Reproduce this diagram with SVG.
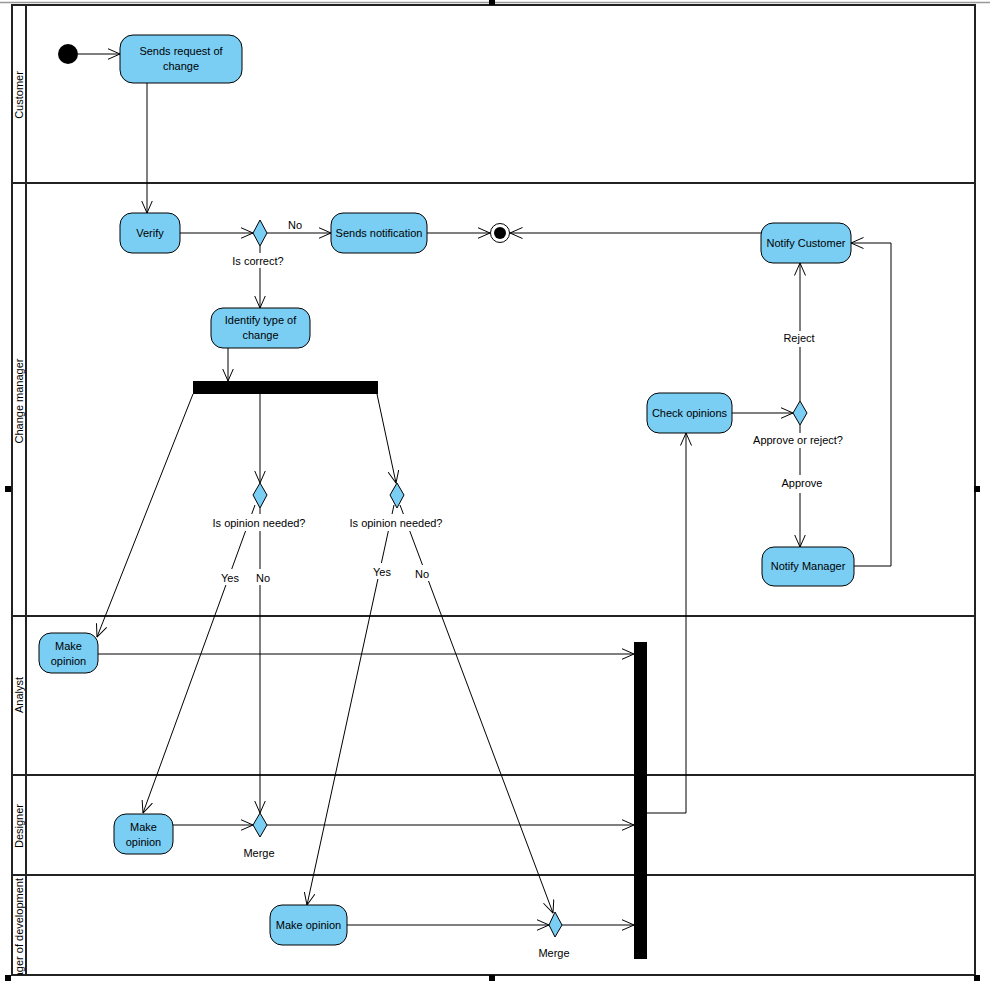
<svg xmlns="http://www.w3.org/2000/svg" width="990" height="993" viewBox="0 0 990 993">
<style>
text{font-family:"Liberation Sans",Arial,sans-serif;font-size:11px;fill:#000}
.n{text-anchor:middle}
.act{fill:#7ACEF4;stroke:#000;stroke-width:1}
.dec{fill:#7ACEF4;stroke:#000;stroke-width:1}
.lane{stroke:#222;stroke-width:2;fill:none}
.c{fill:none;stroke:#000;stroke-width:1;marker-end:url(#arr)}
.cl{fill:none;stroke:#000;stroke-width:1}
.bg{fill:#fff}
.h{fill:#000}
</style>
<defs>
<marker id="arr" markerUnits="userSpaceOnUse" viewBox="0 0 13 12" refX="12.5" refY="6" markerWidth="13" markerHeight="12" orient="auto">
<path d="M0,0.5 L12.5,6 L0,11.5" fill="none" stroke="#000" stroke-width="1"/>
</marker>
<clipPath id="hdr5"><rect x="12" y="876" width="14" height="99"/></clipPath>
</defs>
<rect width="990" height="993" fill="#fff"/>
<g id="frame">
<line x1="0" y1="2.5" x2="990" y2="2.5" stroke="#999" stroke-width="1.5"/>
<rect class="lane" x="12" y="5" width="963" height="970"/>
<line class="lane" x1="26" y1="5" x2="26" y2="975"/>
<line class="lane" x1="12" y1="183" x2="975" y2="183"/>
<line class="lane" x1="12" y1="616" x2="975" y2="616"/>
<line class="lane" x1="12" y1="775" x2="975" y2="775"/>
<line class="lane" x1="12" y1="875" x2="975" y2="875"/>
<text class="n" transform="translate(23,95) rotate(-90)">Customer</text>
<text class="n" transform="translate(23,401) rotate(-90)">Change manager</text>
<text class="n" transform="translate(23,695) rotate(-90)">Analyst</text>
<text class="n" transform="translate(23,826) rotate(-90)">Designer</text>
<g clip-path="url(#hdr5)"><text text-anchor="end" transform="translate(23,878) rotate(-90)">Manager of development</text></g>
<rect class="h" x="489" y="0" width="6" height="5"/>
<rect class="h" x="974" y="486" width="6" height="6"/>
<rect class="h" x="5" y="486" width="6" height="6"/>
<rect class="h" x="489" y="975" width="6" height="6"/>
<rect class="h" x="5" y="975" width="6" height="6"/>
<rect class="h" x="974" y="975" width="6" height="6"/>
</g>
<g id="connectors">
<line class="c" x1="78" y1="54" x2="120" y2="54"/>
<line class="c" x1="147" y1="83" x2="147" y2="213"/>
<line class="c" x1="180" y1="233" x2="253" y2="233"/>
<line class="c" x1="267" y1="233" x2="331" y2="233"/>
<line class="c" x1="427" y1="233" x2="490" y2="233"/>
<line class="c" x1="761" y1="233" x2="510" y2="233"/>
<line class="c" x1="260" y1="246" x2="260" y2="308"/>
<line class="c" x1="228" y1="348" x2="228" y2="381"/>
<line class="c" x1="193" y1="394" x2="97" y2="637"/>
<line class="c" x1="260" y1="394" x2="260" y2="483"/>
<line class="c" x1="377" y1="394" x2="396" y2="483"/>
<line class="c" x1="255" y1="505" x2="143" y2="813"/>
<line class="c" x1="260" y1="508" x2="260" y2="813"/>
<line class="c" x1="394" y1="505" x2="307" y2="905"/>
<line class="c" x1="400" y1="505" x2="553" y2="913"/>
<line class="c" x1="173" y1="825" x2="253" y2="825"/>
<line class="c" x1="267" y1="825" x2="634" y2="825"/>
<line class="c" x1="98" y1="654" x2="634" y2="654"/>
<line class="c" x1="347" y1="925" x2="549" y2="925"/>
<line class="c" x1="562" y1="925" x2="634" y2="925"/>
<polyline class="c" points="647,813 686,813 686,433"/>
<line class="c" x1="732" y1="413" x2="793" y2="413"/>
<line class="c" x1="800" y1="401" x2="800" y2="263"/>
<line class="c" x1="800" y1="425" x2="800" y2="547"/>
<polyline class="c" points="854,566 891,566 891,243 851,243"/>
</g>
<g id="labels">
<text class="n" x="295" y="229">No</text>
<rect class="bg" x="231" y="253" width="54" height="15"/><text class="n" x="258" y="265">Is correct?</text>
<rect class="bg" x="212" y="514" width="94" height="17"/><text class="n" x="259" y="527">Is opinion needed?</text>
<rect class="bg" x="349" y="514" width="94" height="17"/><text class="n" x="396" y="527">Is opinion needed?</text>
<rect class="bg" x="219" y="569" width="22" height="16"/><text class="n" x="230" y="582">Yes</text>
<rect class="bg" x="255" y="569" width="16" height="16"/><text class="n" x="263" y="582">No</text>
<rect class="bg" x="371" y="563" width="22" height="16"/><text class="n" x="382" y="576">Yes</text>
<rect class="bg" x="414" y="565" width="16" height="16"/><text class="n" x="422" y="578">No</text>
<text class="n" x="259" y="857">Merge</text>
<text class="n" x="554" y="957">Merge</text>
<rect class="bg" x="782" y="331" width="35" height="16"/><text class="n" x="799" y="342">Reject</text>
<rect class="bg" x="752" y="433" width="93" height="15"/><text class="n" x="798" y="444">Approve or reject?</text>
<rect class="bg" x="780" y="475" width="44" height="18"/><text class="n" x="802" y="487">Approve</text>
</g>
<g id="initial"><circle cx="68" cy="54" r="10" fill="#000"/></g>
<g id="final"><circle cx="500" cy="233" r="9.5" fill="#fff" stroke="#000"/><circle cx="500" cy="233" r="6" fill="#000"/></g>
<g id="sendsRequest"><rect class="act" x="120" y="35" width="122" height="48" rx="13"/><text class="n" x="181" y="55">Sends request of</text><text class="n" x="181" y="70">change</text></g>
<g id="verify"><rect class="act" x="120" y="213" width="60" height="40" rx="12"/><text class="n" x="150" y="237">Verify</text></g>
<g id="isCorrect"><polygon class="dec" points="260,220 267,233 260,246 253,233"/></g>
<g id="sendsNotification"><rect class="act" x="331" y="213" width="96" height="40" rx="12"/><text class="n" x="379" y="237">Sends notification</text></g>
<g id="identify"><rect class="act" x="211" y="308" width="99" height="40" rx="12"/><text class="n" x="260.5" y="324">Identify type of</text><text class="n" x="260.5" y="339">change</text></g>
<g id="fork"><rect x="193" y="381" width="185" height="13" fill="#000"/></g>
<g id="opinion1"><polygon class="dec" points="260,483 267,495 260,508 253,495"/></g>
<g id="opinion2"><polygon class="dec" points="397,483 404,495 397,508 390,495"/></g>
<g id="analystOpinion"><rect class="act" x="39" y="633" width="59" height="40" rx="12"/><text class="n" x="68.5" y="650">Make</text><text class="n" x="68.5" y="665">opinion</text></g>
<g id="designerOpinion"><rect class="act" x="114" y="814" width="59" height="40" rx="12"/><text class="n" x="143.5" y="831">Make</text><text class="n" x="143.5" y="846">opinion</text></g>
<g id="merge1"><polygon class="dec" points="260,813 267,825 260,837 253,825"/></g>
<g id="devOpinion"><rect class="act" x="270" y="905" width="77" height="40" rx="12"/><text class="n" x="308.5" y="929">Make opinion</text></g>
<g id="merge2"><polygon class="dec" points="555,912 562,925 555,937 549,925"/></g>
<g id="join"><rect x="634" y="642" width="13" height="317" fill="#000"/></g>
<g id="checkOpinions"><rect class="act" x="647" y="393" width="85" height="40" rx="12"/><text class="n" x="689.5" y="417">Check opinions</text></g>
<g id="approveReject"><polygon class="dec" points="800,401 807,413 800,425 793,413"/></g>
<g id="notifyCustomer"><rect class="act" x="761" y="223" width="90" height="40" rx="12"/><text class="n" x="806" y="247">Notify Customer</text></g>
<g id="notifyManager"><rect class="act" x="762" y="547" width="92" height="39" rx="12"/><text class="n" x="808" y="570">Notify Manager</text></g>
</svg>
